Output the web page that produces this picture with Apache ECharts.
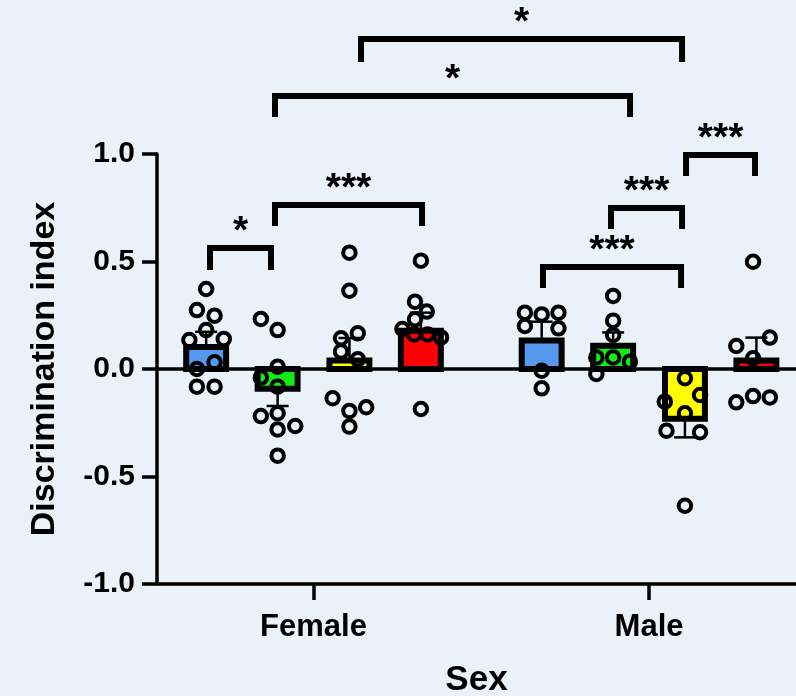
<!DOCTYPE html>
<html><head><meta charset="utf-8">
<script src="https://cdn.jsdelivr.net/npm/echarts@6/dist/echarts.min.js"></script>
<style>html,body{margin:0;padding:0;background:#eaf1f9;}#c{width:796px;height:696px;}</style>
</head><body><div id="c"></div>
<script>
// ---------- data ----------
const categories = ['Female', 'Male'];
const yTickLabels = ['-1.0', '-0.5', '0.0', '0.5', '1.0'];
const femaleMeans = [0.102, -0.092, 0.040, 0.178];
const maleMeans = [0.132, 0.108, -0.231, 0.040];
const femaleSEM = [0.071, 0.080, 0.104, 0.084];
const maleSEM = [0.088, 0.062, 0.087, 0.106];
// individual animals: [jitter, value]
const femaleBlue = [[0,0.372],[-0.55,0.274],[0.5,0.248],[0,0.181],[-1,0.135],[1.05,0.14],[0.5,0.031],[-0.55,0.0],[-0.55,-0.082],[0.5,-0.082]];
const femaleGreen = [[-1,0.233],[0,0.181],[0,0.011],[-1,-0.04],[0,-0.082],[-1,-0.219],[0,-0.206],[0,-0.281],[1.05,-0.265],[0,-0.403]];
const femaleYellow = [[0,0.541],[0,0.364],[-0.5,0.143],[0.5,0.166],[-0.5,0.081],[0.5,0.045],[-1,-0.136],[0,-0.195],[1,-0.178],[0,-0.268]];
const femaleRed = [[0,0.504],[-0.35,0.313],[0.35,0.267],[-0.35,0.231],[-1.1,0.186],[-0.4,0.161],[0.4,0.161],[1.2,0.147],[0,-0.186]];
const maleBlue = [[-1,0.262],[0,0.254],[1,0.262],[-1,0.2],[1,0.189],[0,-0.008],[0,-0.09]];
const maleGreen = [[0,0.34],[0,0.225],[0,0.158],[-1,0.054],[0,0.054],[1,0.034],[-1,-0.023]];
const maleYellow = [[0,-0.043],[0.9,-0.121],[-1.2,-0.152],[0,-0.206],[-1.1,-0.287],[0.9,-0.294],[0,-0.636]];
const maleRed = [[-0.2,0.499],[0.8,0.146],[-1.2,0.107],[-0.2,0.05],[-1.2,-0.155],[-0.2,-0.126],[0.8,-0.132]];
// significance brackets: [x start, x end, bar level, leg end, label]
const brackets = [
  [-0.3085, -0.1267, 0.563, 0.460, '*'],
  [-0.1148, 0.3234, 0.763, 0.665, '***'],
  [0.6840, 1.0954, 0.474, 0.377, '***'],
  [0.8867, 1.0984, 0.749, 0.651, '***'],
  [1.1103, 1.3159, 0.995, 0.898, '***'],
  [-0.1148, 0.9434, 1.270, 1.172, '*'],
  [0.1416, 1.0984, 1.535, 1.428, '*']
];

// ---------- layout / style ----------
const barColors = ['#5599ee', '#14ea14', '#ffff00', '#ff0000'];
const OFFS = [-0.32, -0.107, 0.107, 0.32];
const BAR_W = 0.119;
const JITTER = 0.05;
const CAP_PX = 22;
const FONT = '"Liberation Sans", Arial, Helvetica, sans-serif';

const means = [femaleMeans, maleMeans];
const sems = [femaleSEM, maleSEM];
const pts = [[femaleBlue, femaleGreen, femaleYellow, femaleRed], [maleBlue, maleGreen, maleYellow, maleRed]];

const barData = [], errData = [], pointData = [];
for (let g = 0; g < 2; g++) {
  for (let i = 0; i < 4; i++) {
    const x = g + OFFS[i];
    barData.push([x, means[g][i], i]);
    errData.push([x, means[g][i], sems[g][i]]);
    pts[g][i].forEach(p => pointData.push([x + p[0] * JITTER, p[1]]));
  }
}

const chart = echarts.init(document.getElementById('c'), null, {renderer: 'canvas'});
chart.setOption({
  backgroundColor: '#eaf1f9',
  animation: false,
  grid: {left: 157, right: 0, top: 154, bottom: 112, containLabel: false, outerBoundsMode: 'none'},
  xAxis: {
    type: 'value', min: -0.4665, max: 1.438,
    axisLine: {show: true, onZero: false, lineStyle: {color: '#000', width: 3.5}},
    axisTick: {show: true, customValues: [0, 1], length: 16, lineStyle: {color: '#000', width: 3.5}},
    axisLabel: {customValues: [0, 1], formatter: v => categories[Math.round(v)], color: '#000',
      fontSize: 31, fontWeight: 'bold', fontFamily: FONT, margin: 28},
    splitLine: {show: false},
    name: 'Sex', nameLocation: 'middle', nameGap: 79,
    nameTextStyle: {color: '#000', fontSize: 35, fontWeight: 'bold', fontFamily: FONT}
  },
  yAxis: {
    type: 'value', min: -1, max: 1, interval: 0.5,
    axisLine: {show: true, onZero: false, lineStyle: {color: '#000', width: 3.5}},
    axisTick: {show: true, length: 15, lineStyle: {color: '#000', width: 3.5}},
    axisLabel: {formatter: v => yTickLabels[Math.round((v + 1) / 0.5)], color: '#000',
      fontSize: 30, fontWeight: 'bold', fontFamily: FONT, margin: 22},
    splitLine: {show: false},
    name: 'Discrimination index', nameLocation: 'middle', nameGap: 95, nameRotate: 90,
    nameTextStyle: {color: '#000', fontSize: 34, fontWeight: 'bold', fontFamily: FONT}
  },
  series: [
    {
      type: 'custom', name: 'bars', data: barData, z: 2,
      renderItem: (params, api) => {
        const x = api.value(0), m = api.value(1), c = api.value(2);
        const a = api.coord([x - BAR_W / 2, 0]);
        const b = api.coord([x + BAR_W / 2, m]);
        return {
          type: 'rect',
          shape: {x: a[0], y: Math.min(a[1], b[1]), width: b[0] - a[0], height: Math.abs(b[1] - a[1])},
          style: {fill: barColors[c], stroke: '#000', lineWidth: 6}
        };
      },
      markLine: {silent: true, symbol: ['none', 'none'], label: {show: false},
        lineStyle: {color: '#000', width: 3.5, type: 'solid'}, data: [{yAxis: 0}]}
    },
    {
      type: 'custom', name: 'sem', data: errData, z: 3,
      renderItem: (params, api) => {
        const x = api.value(0), m = api.value(1), s = api.value(2);
        const end = m >= 0 ? m + s : m - s;
        const p0 = api.coord([x, m]);
        const p1 = api.coord([x, end]);
        return {
          type: 'group', children: [
            {type: 'line', shape: {x1: p0[0], y1: p0[1], x2: p1[0], y2: p1[1]}, style: {stroke: '#000', lineWidth: 2.5}},
            {type: 'line', shape: {x1: p1[0] - CAP_PX / 2, y1: p1[1], x2: p1[0] + CAP_PX / 2, y2: p1[1]}, style: {stroke: '#000', lineWidth: 2.5}}
          ]
        };
      }
    },
    {
      type: 'scatter', name: 'animals', data: pointData, z: 4,
      symbol: 'circle', symbolSize: 12.5,
      itemStyle: {color: 'rgba(0,0,0,0)', borderColor: '#000', borderWidth: 4, opacity: 1}
    },
    {
      type: 'custom', name: 'brackets', data: brackets.map(b => [b[0], b[1], b[2], b[3]]), z: 5, clip: false,
      renderItem: (params, api) => {
        const x1 = api.value(0), x2 = api.value(1), yl = api.value(2), yb = api.value(3);
        const a = api.coord([x1, yb]), b = api.coord([x1, yl]), c = api.coord([x2, yl]), d = api.coord([x2, yb]);
        return {
          type: 'group', children: [
            {type: 'polyline', shape: {points: [a, b, c, d]}, style: {stroke: '#000', fill: null, lineWidth: 6, lineJoin: 'miter'}},
            {type: 'text', style: {text: brackets[params.dataIndex][4], x: (b[0] + c[0]) / 2, y: b[1] - 16,
              align: 'center', verticalAlign: 'middle', fill: '#000',
              font: 'bold 39px ' + FONT}}
          ]
        };
      }
    }
  ]
});
</script></body></html>
